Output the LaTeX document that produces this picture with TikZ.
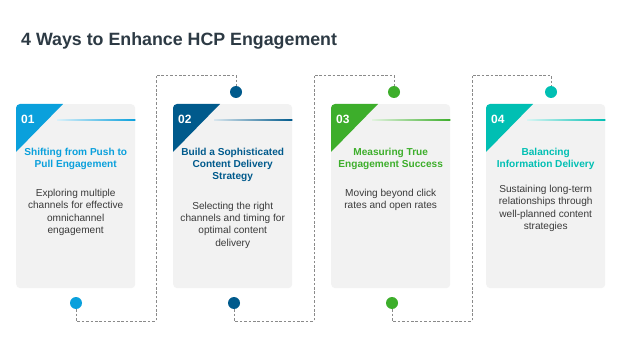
\documentclass[tikz,border=0pt]{standalone}
\usepackage{fontspec}
\setmainfont{Liberation Sans}
\usetikzlibrary{calc}
\definecolor{cA}{HTML}{0AA0DC}
\definecolor{cB}{HTML}{005A8C}
\definecolor{cC}{HTML}{3DAE2B}
\definecolor{cD}{HTML}{00BFB3}
\definecolor{cardfill}{HTML}{F2F2F2}
\definecolor{titlecol}{HTML}{2D3A44}
\definecolor{bodycol}{HTML}{3A3A3A}
\definecolor{dashcol}{HTML}{8A8A8A}
\tikzset{
  cardbox/.style={fill=cardfill, rounded corners=4pt, minimum width=119pt, minimum height=184pt, inner sep=0pt, draw=none},
  numtxt/.style={anchor=west, inner sep=0pt, text=white, font=\bfseries\fontsize{12}{14}\selectfont},
  titletxt/.style={anchor=north, inner sep=0pt, align=center, font=\bfseries\fontsize{10.1}{12.3}\selectfont},
  bodytxt/.style={anchor=north, inner sep=0pt, align=center, text=bodycol, font=\fontsize{10.1}{12.4}\selectfont},
  dotnode/.style={circle, inner sep=0pt, minimum size=12pt, draw=none},
  conn/.style={draw=dashcol, line width=0.6pt, dash pattern=on 2.6pt off 1.8pt}
}
\newcommand\hcpcard[7]{%
  \node[cardbox, anchor=north west] (#1) at (#2,104) {};
  \begin{scope}
    \clip[rounded corners=4pt] (#1.north west) rectangle (#1.south east);
    \fill[#3] (#1.north west) -- ++(47,0) -- ++(-47,48) -- cycle;
  \end{scope}
  \shade[left color=#3!15, right color=#3] ($(#1.north west)+(41,15.4)$) rectangle ($(#1.north east)+(0,16.8)$);
  \node[numtxt] (#1num) at ($(#1.north west)+(5,15.5)$) {#4};
  \node[titletxt, text=#3] (#1title) at ($(#1.north)+(0,43.5)$) {#5};
  \node[bodytxt] (#1body) at ($(#1.north)+(0,#6)$) {#7};
}
\begin{document}
\begin{tikzpicture}[x=1pt,y=-1pt]
\useasboundingbox (0,0) rectangle (624,342);
\fill[white] (0,0) rectangle (624,342);
\node[anchor=west, inner sep=0pt, text=titlecol, font=\bfseries\fontsize{17.8}{21}\selectfont] (title) at (21,41) {4 Ways to Enhance HCP Engagement};

\hcpcard{card1}{16}{cA}{01}{Shifting from Push to\\Pull Engagement}{85}{Exploring multiple\\channels for effective\\omnichannel\\engagement}
\hcpcard{card2}{173}{cB}{02}{Build a Sophisticated\\Content Delivery\\Strategy}{97.5}{Selecting the right\\channels and timing for\\optimal content\\delivery}
\hcpcard{card3}{331}{cC}{03}{Measuring True\\Engagement Success}{85}{Moving beyond click\\rates and open rates}
\hcpcard{card4}{486}{cD}{04}{Balancing\\Information Delivery}{81}{Sustaining long-term\\relationships through\\well-planned content\\strategies}

% dots
\node[dotnode, fill=cA] (b1) at (76,303) {};
\node[dotnode, fill=cB] (b2) at (234,303) {};
\node[dotnode, fill=cC] (b3) at (392,303) {};
\node[dotnode, fill=cB] (t2) at (236,92) {};
\node[dotnode, fill=cC] (t3) at (394,92) {};
\node[dotnode, fill=cD] (t4) at (551,92) {};

% connector corners
\coordinate (k1b) at (156,321);
\coordinate (k1t) at (156,75);
\coordinate (k2b) at (314,321);
\coordinate (k2t) at (314,75);
\coordinate (k3b) at (472,321);
\coordinate (k3t) at (472,75);

\draw[conn] (b1.south) |- (k1b) -- (k1t) -| (t2.north);
\draw[conn] (b2.south) |- (k2b) -- (k2t) -| (t3.north);
\draw[conn] (b3.south) |- (k3b) -- (k3t) -| (t4.north);
\end{tikzpicture}
\end{document}
